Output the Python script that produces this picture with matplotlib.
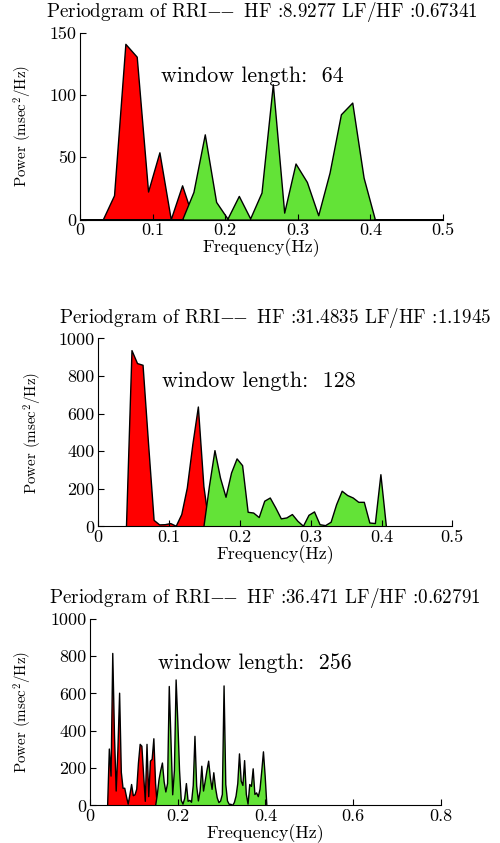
import matplotlib.pyplot as plt
import numpy as np

plt.rcParams['font.family'] = ['cmr10', 'DejaVu Serif']
plt.rcParams['mathtext.fontset'] = 'cm'
plt.rcParams['axes.formatter.use_mathtext'] = True

# periodogram values, bin index = frequency * window length
win64_lf_start = 3
win64_lf = [19.5, 141, 130.7, 22.5, 54, 0.3, 27.5]
win64_hf_start = 10
win64_hf = [22.2, 68.4, 14.2, 0.8, 19, 1, 21.7, 108.6, 5.6, 45, 30.2, 3.5,
            37.7, 84.5, 93.9, 33.7]

win128_lf_start = 6
win128_lf = [938, 869, 860, 440, 35, 11, 12, 18, 4, 66, 207, 438, 638, 215]
win128_hf_start = 20
win128_hf = [216, 406, 260, 158, 287, 362, 326, 78, 74, 50, 137, 154, 101, 43,
             48, 66, 30, 4, 62, 80, 12, 7, 25, 119, 190, 167, 154, 131, 131,
             21, 18, 278]

win256_lf_start = 11
win256_lf = [305, 160, 817, 380, 80, 300, 604, 180, 95, 95, 50, 10, 60, 115,
             55, 60, 90, 230, 330, 320, 170, 25, 330, 50, 240, 250, 360, 120]
win256_hf_start = 39
win256_hf = [60, 140, 190, 230, 130, 75, 120, 640, 350, 60, 190, 675, 450, 190,
             30, 10, 40, 120, 25, 30, 20, 110, 373, 107, 27, 80, 213, 80, 133,
             190, 240, 150, 89, 178, 98, 44, 18, 27, 62, 643, 115, 27, 9, 9, 3,
             18, 53, 120, 279, 133, 110, 243, 62, 10, 115, 105, 199, 62, 70, 50,
             90, 186, 290, 160]

titles = [r'Periodgram of RRI$-\!\!-$ HF :8.9277 LF/HF :0.67341',
          r'Periodgram of RRI$-\!\!-$ HF :31.4835 LF/HF :1.1945',
          r'Periodgram of RRI$-\!\!-$ HF :36.471 LF/HF :0.62791']


def spectrum(n, start, values):
    p = np.zeros(n // 2 + 1)
    p[start:start + len(values)] = values
    return p


def panel(ax, n, lf_start, lf, hf_start, hf, title, xticks, yticks, text_pos, ylab_x):
    freq = np.arange(n // 2 + 1) / n
    ax.fill_between(freq, spectrum(n, lf_start, lf), facecolor='#ff0000',
                    edgecolor='black', linewidth=1.0)
    ax.fill_between(freq, spectrum(n, hf_start, hf), facecolor='#63e337',
                    edgecolor='black', linewidth=1.0)
    ax.set_xlim(xticks[0], xticks[-1])
    ax.set_ylim(yticks[0], yticks[-1])
    ax.set_xticks(xticks)
    ax.set_xticklabels([f'{t:g}' for t in xticks])
    ax.set_yticks(yticks)
    ax.set_yticklabels([f'{t:g}' for t in yticks])
    ax.spines[['top', 'right']].set_visible(False)
    ax.tick_params(direction='in', length=4, labelsize=13)
    ax.tick_params(axis='x', pad=2.2)
    ax.tick_params(axis='y', pad=2.5)
    ax.set_title(title, fontsize=13.8, pad=11)
    ax.set_xlabel('Frequency(Hz)', fontsize=13, labelpad=0.5)
    ax.set_ylabel(r'Power (msec$^2$/Hz)', fontsize=10.8)
    ax.yaxis.set_label_coords(ylab_x, 0.5)
    ax.text(text_pos[0], text_pos[1], f'window length:  {n}', fontsize=15.8,
            va='center', ha='left')


fig = plt.figure(figsize=(5, 8.43), dpi=100)
ax1 = fig.add_axes([0.16, 0.7395, 0.726, 0.2218])
ax2 = fig.add_axes([0.1966, 0.3755, 0.708, 0.223])
ax3 = fig.add_axes([0.18, 0.0445, 0.7014, 0.2215])

panel(ax1, 64, win64_lf_start, win64_lf, win64_hf_start, win64_hf, titles[0],
      [0, 0.1, 0.2, 0.3, 0.4, 0.5], [0, 50, 100, 150], (0.111, 115), -0.127)
panel(ax2, 128, win128_lf_start, win128_lf, win128_hf_start, win128_hf, titles[1],
      [0, 0.1, 0.2, 0.3, 0.4, 0.5], [0, 200, 400, 600, 800, 1000], (0.09, 774), -0.153)
panel(ax3, 256, win256_lf_start, win256_lf, win256_hf_start, win256_hf, titles[2],
      [0, 0.2, 0.4, 0.6, 0.8], [0, 200, 400, 600, 800, 1000], (0.156, 764), -0.16)

fig.savefig('out.png', dpi=100)
